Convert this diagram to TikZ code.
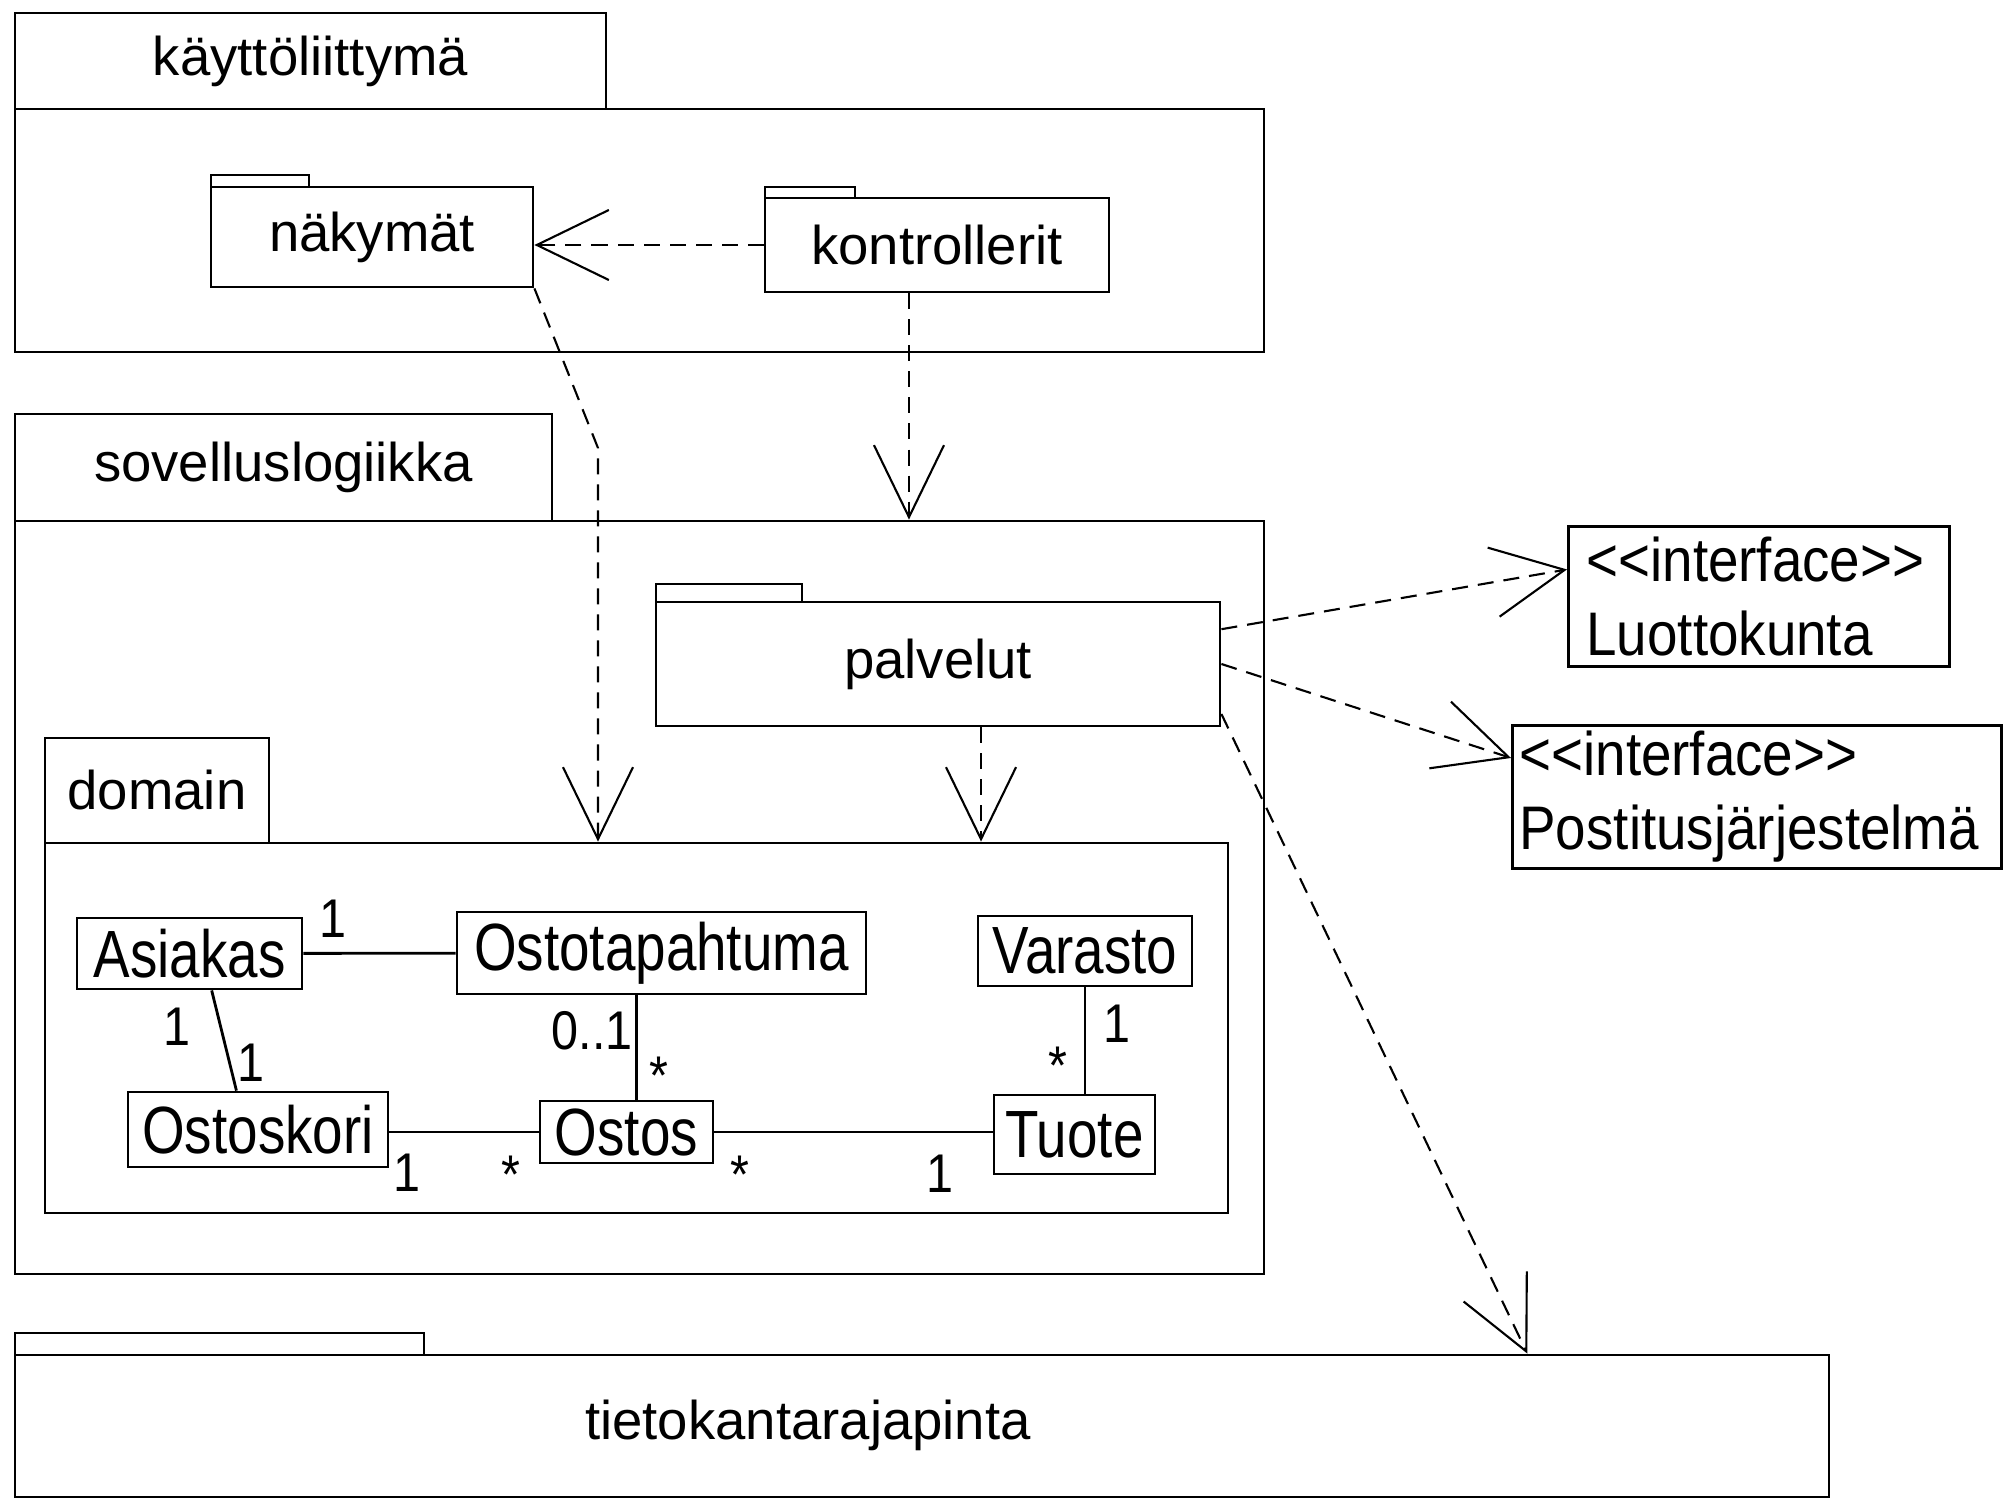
\documentclass[tikz,border=0pt]{standalone}
\usepackage{fontspec}
\setmainfont{Liberation Sans}
\newfontfamily\classfont{Liberation Sans}[FakeStretch=0.82]
\newfontfamily\narrowfont{Liberation Sans}[FakeStretch=0.89]
\usetikzlibrary{arrows.meta}
\usetikzlibrary{fit}

\tikzset{
  box/.style={draw, line width=0.8pt, inner sep=0pt},
  cls/.style={box, label={[classfont]center:#1}},
  pkg/.style={box, label=center:#1},
  classfont/.style={font=\classfont\fontsize{19}{22}\selectfont},
  dep/.style={line width=0.6pt, dash pattern=on 0.16cm off 0.1cm,
    -{Straight Barb[length=0.72cm, width=0.7cm, line width=0.6pt]}},
  assoc/.style={line width=0.8pt},
  mult/.style={inner sep=0pt, font=\narrowfont\fontsize{15.5}{18}\selectfont}
}

\begin{document}
\begin{tikzpicture}[x=0.01cm, y=-0.01cm, font=\fontsize{15.5}{19.5}\selectfont]
\useasboundingbox (0,0) rectangle (2008,1500);

    % Packages
    \node[pkg=käyttöliittymä, fit={(15,13) (606,109)}] (klTab) {};
    \node[box, fit={(15,109) (1264,352)}] (kl) {};
    \node[box, fit={(211,175) (309,187)}] (nakymatTab) {};
    \node[pkg=näkymät, fit={(211,187) (533,287)}] (nakymat) {};
    \node[box, fit={(765,187) (855,198)}] (kontrolleritTab) {};
    \node[pkg=kontrollerit, fit={(765,198) (1109,292)}] (kontrollerit) {};

    \node[pkg=sovelluslogiikka, fit={(15,414) (552,521)}] (slTab) {};
    \node[box, fit={(15,521) (1264,1274)}] (sl) {};
    \node[box, fit={(656,584) (802,602)}] (palvelutTab) {};
    \node[pkg=palvelut, fit={(656,602) (1220,726)}] (palvelut) {};
    \node[pkg=domain, fit={(45,738) (269,843)}] (domTab) {};
    \node[box, fit={(45,843) (1228,1213)}] (dom) {};

    \node[box, fit={(15,1333) (424,1355)}] (tkTab) {};
    \node[box, fit={(15,1355) (1829,1497)}] (tk) {};
    \node at (808,1425) (tkLabel) {tietokantarajapinta};

    % Interfaces
    \node[box, anchor=north west, minimum width=3.81cm, minimum height=1.40cm,
      text width=3.45cm, align=left, font=\narrowfont\fontsize{17.5}{21}\selectfont]
      (luottokunta) at (1567,525) {{<}{<}interface{>}{>}\\Luottokunta};
    \node[box, anchor=north west, minimum width=4.89cm, minimum height=1.43cm,
      text width=4.75cm, align=left, font=\narrowfont\fontsize{17.5}{21}\selectfont]
      (postitus) at (1511,724) {{<}{<}interface{>}{>}\\Postitusjärjestelmä};

    % Classes
    \node[cls=Asiakas, fit={(77,918) (302,989)}] (asiakas) {};
    \node[cls=Ostotapahtuma, fit={(457,912) (866,994)}] (ostotapahtuma) {};
    \node[cls=Varasto, fit={(978,916) (1192,986)}] (varasto) {};
    \node[cls=Ostoskori, fit={(128,1092) (388,1167)}] (ostoskori) {};
    \node[cls=Ostos, fit={(540,1101) (713,1163)}] (ostos) {};
    \node[cls=Tuote, fit={(994,1095) (1155,1174)}] (tuote) {};

    % Associations
    \draw[assoc] (asiakas) -- (ostotapahtuma);
    \draw[assoc] (asiakas.-59) -- (ostoskori.119);
    \draw[assoc] ([xshift=0.1cm]ostotapahtuma.south -| ostos.north) -- ([xshift=0.1cm]ostos.north);
    \draw[assoc] (varasto.south) -- (varasto.south |- tuote.north);
    \draw[assoc] (ostos.west -| ostoskori.east) -- (ostos.west);
    \draw[assoc] (ostos.east) -- (ostos.east -| tuote.west);

    % Multiplicities
    \node[mult] (m1) at (333,919) {1};
    \node[mult] (m2) at (177,1027) {1};
    \node[mult] (m3) at (251,1063) {1};
    \node[mult] (m4) at (592,1031) {0..1};
    \node[mult] (m5) at (659,1076) {*};
    \node[mult] (m6) at (1117,1024) {1};
    \node[mult] (m7) at (1058,1066) {*};
    \node[mult] (m8) at (407,1173) {1};
    \node[mult] (m9) at (511,1175) {*};
    \node[mult] (m10) at (740,1175) {*};
    \node[mult] (m11) at (940,1174) {1};

    % Dependencies
    \coordinate (bend) at (598,448);
    \draw[dep] (kontrollerit.west) -- (kontrollerit.west -| nakymat.east);
    \draw[dep] (nakymat.south east) -- (bend) -- (bend |- dom.north);
    \draw[dep] ([xshift=-0.28cm]kontrollerit.south) -- ([xshift=-0.28cm]kontrollerit.south |- sl.north);
    \draw[dep] ([xshift=0.43cm]palvelut.south) -- ([xshift=0.43cm]palvelut.south |- dom.north);
    \draw[dep] (palvelut.7.5) -- (luottokunta.172.5);
    \draw[dep] (palvelut.east) -- (postitus.171);
    \draw[dep] (palvelut.-10.6) -- ([xshift=6.05cm]tk.north);

\end{tikzpicture}
\end{document}
